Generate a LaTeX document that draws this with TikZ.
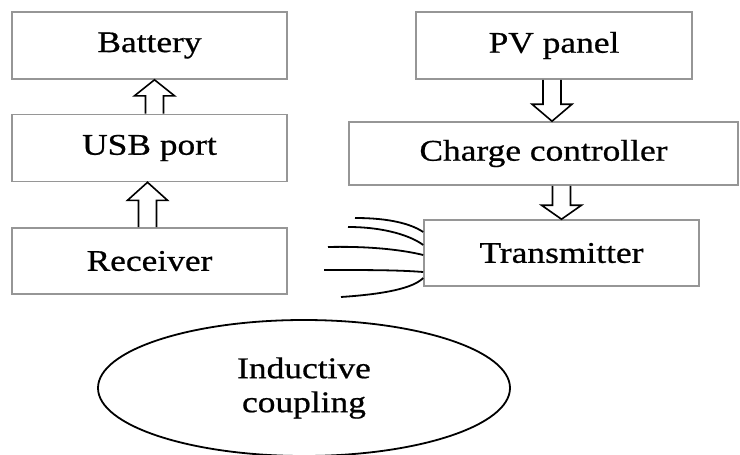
\documentclass[tikz,border=0pt]{standalone}
\usepackage{fontspec}
\setmainfont{Liberation Serif}[FakeStretch=1.18, FakeBold=0.7]
\usepackage{tikz}
\usetikzlibrary{shapes.geometric,calc,positioning}

\newcommand{\hollowarrow}[3]{%
  \draw[hollowedge] let \p1=(#1), \p2=(#2) in
    ({\x1-9pt},\y1) -- ({\x1-9pt},{\y2-#3}) -- ({\x1-20pt},{\y2-#3}) -- (\x1,\y2)
    -- ({\x1+20pt},{\y2-#3}) -- ({\x1+9pt},{\y2-#3}) -- ({\x1+9pt},\y1);}

\begin{document}
\begin{tikzpicture}[x=1pt, y=-1pt,
  every node/.style={font=\fontsize{30}{34}\selectfont},
  block/.style={draw={rgb,255:red,150;green,150;blue,150}, line width=1.6pt,
    minimum width=275pt, minimum height=67pt, inner sep=0pt},
  hollowedge/.style={draw=black, line width=1.6pt, line join=miter},
  coil/.style={draw=black, line width=1.8pt}]
\useasboundingbox (0,0) rectangle (740,455);

\node[block] (battery) at (149.5,45.5) {Battery};
\node[block] (usb) at (149.5,148) {USB port};
\node[block, minimum height=66pt] (receiver) at (149.5,261) {Receiver};
\node[block, minimum width=276pt] (pv) at (554,45.5) {PV panel};
\node[block, minimum width=389pt, minimum height=63pt] (charge) at (543.5,153.5) {Charge controller};
\node[block, minimum height=66pt] (tx) at (561.5,253) {Transmitter};
\node[ellipse, draw=black, line width=1.8pt, minimum width=412pt, minimum height=136pt,
  inner sep=0pt, align=center] (coupling) at (304,388) {Inductive\\coupling};

\hollowarrow{$(usb.north)+(5,0)$}{battery.south}{16pt}
\hollowarrow{$(receiver.north)+(-2,0)$}{usb.south}{18pt}
\hollowarrow{$(pv.south)+(-2,0)$}{charge.north}{(-17pt)}
\hollowarrow{$(charge.south)+(18,0)$}{tx.north}{(-14pt)}

% field lines
\foreach \i/\fx/\fy/\ty/\ca/\cb/\cc/\cd in {1/355/218/-21/35/0/-12/-8,
    2/348/227/-8/37/0/-12/-9, 3/328/247/2/42/-1/-20/-5,
    4/324/270/19/45/0/-25/-2, 5/341/297/25/45/-3/-10/10}{
  \coordinate (f\i) at (\fx,\fy);
  \draw[coil] (f\i) .. controls +(\ca,\cb) and +(\cc,\cd) .. ($(tx.west)+(0,\ty)$);
}

\end{tikzpicture}
\end{document}
